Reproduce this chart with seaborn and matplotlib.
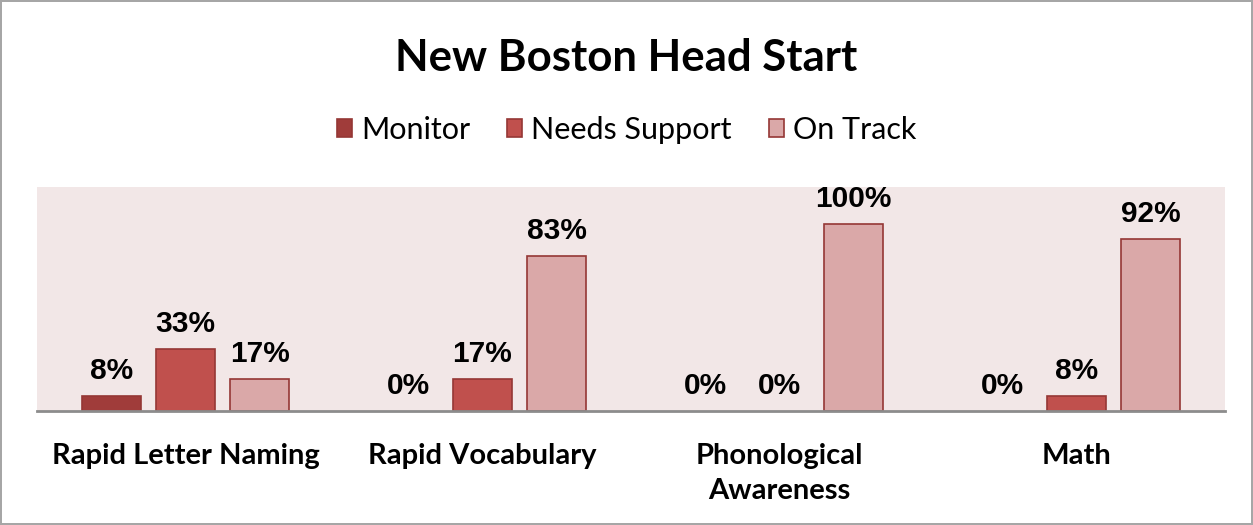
import pandas as pd
import seaborn as sns
import matplotlib.pyplot as plt
from matplotlib.patches import Patch

# Chart data
categories = ["Rapid Letter Naming", "Rapid Vocabulary", "Phonological\nAwareness", "Math"]
series = ["Monitor", "Needs Support", "On Track"]
monitor = [8, 0, 0, 0]
needs_support = [33, 17, 0, 8]
on_track = [17, 83, 100, 92]
colors = ["#A03C3A", "#C0504D", "#DAA8A8"]

df = pd.DataFrame({
    "Category": categories * 3,
    "Status": [s for s in series for _ in categories],
    "Value": monitor + needs_support + on_track,
})

sns.set_style("white")
plt.rcParams["font.family"] = ["Lato", "DejaVu Sans"]
plt.rcParams["text.color"] = "black"
plt.rcParams["xtick.color"] = "black"

fig = plt.figure(figsize=(12.53, 5.25), dpi=100)
fig.patch.set_edgecolor("#A6A6A6")
fig.patch.set_linewidth(1.5)

ax = fig.add_axes([0.0295, 0.217, 0.948, 0.427])
sns.barplot(data=df, x="Category", y="Value", hue="Status", hue_order=series,
            order=categories, palette=colors, saturation=1, width=0.75, gap=0.2,
            edgecolor="#953735", linewidth=1.2, legend=False, ax=ax)

# hide outlines of zero-height bars
for bar in ax.patches:
    if bar.get_height() == 0:
        bar.set_linewidth(0)

ax.set_facecolor("#F2E7E7")
ax.set_ylim(0, 120)
ax.set_xlim(-0.5, 3.5)
ax.set_yticks([])
ax.set_xlabel("")
ax.set_ylabel("")
for side in ["top", "right", "left"]:
    ax.spines[side].set_visible(False)
ax.spines["bottom"].set_color("#8C8C8C")
ax.spines["bottom"].set_linewidth(2)

ax.tick_params(axis="x", length=0, pad=23)
for lbl in ax.get_xticklabels():
    lbl.set_fontsize(21)
    lbl.set_fontweight("bold")
    lbl.set_verticalalignment("top")
    lbl.set_linespacing(1.45)

for cont in ax.containers:
    ax.bar_label(cont, labels=[f"{v:.0f}%" for v in cont.datavalues], padding=8,
                 fontsize=21.5, fontweight="bold", family="Liberation Sans")

fig.text(0.5, 1 - 58 / 525, "New Boston Head Start", ha="center", va="center",
         fontsize=31.5, fontweight="bold")

handles = [Patch(facecolor=c, edgecolor="#953735", linewidth=1.2) for c in colors]
fig.legend(handles, series, loc="center", bbox_to_anchor=(0.5, 1 - 130 / 525), ncol=3,
           frameon=False, fontsize=22, handlelength=0.5, handleheight=0.5,
           handletextpad=0.3, columnspacing=1.2)

fig.savefig("out.png", dpi=100)
